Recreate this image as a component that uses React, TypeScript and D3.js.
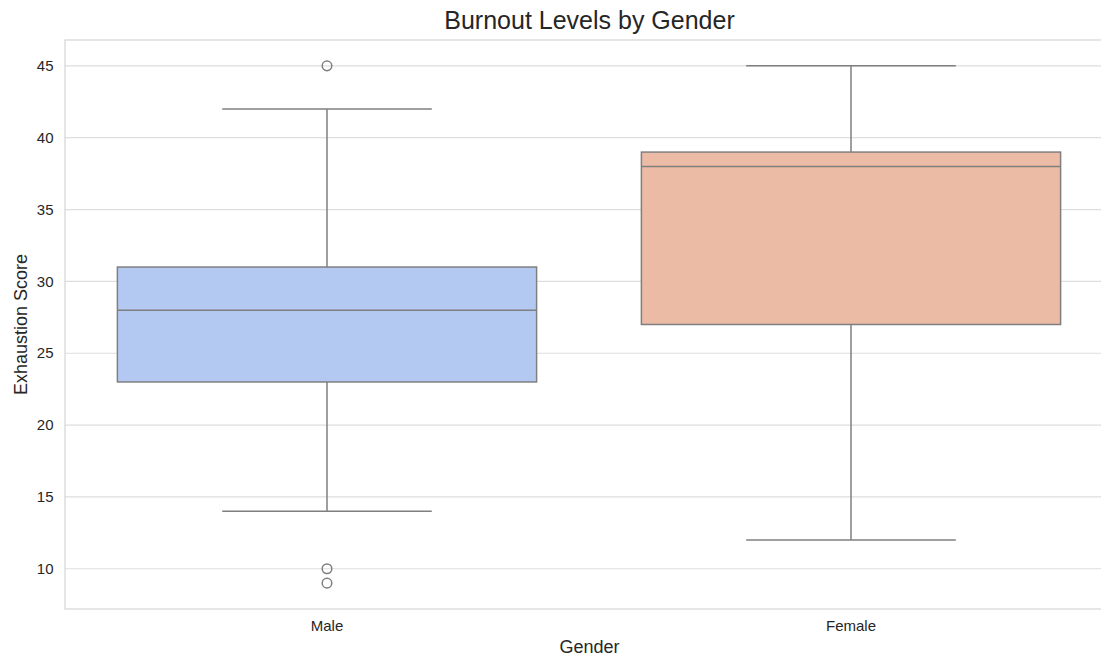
import React from "react";
import * as d3 from "d3";

const categories = ["Male", "Female"];
const whiskerLow = [14, 12];
const q1 = [23, 27];
const median = [28, 38];
const q3 = [31, 39];
const whiskerHigh = [42, 45];
const outliers = [[45, 10, 9], []];
const boxColors = ["#b4c9f2", "#ecbba5"];
const yTicks = [10, 15, 20, 25, 30, 35, 40, 45];

const W = 1101;
const H = 657;
const left = 65;
const right = 1113;
const top = 40;
const bottom = 609;
const lineColor = "#7f7f7f";
const font = "'Liberation Sans', Arial, sans-serif";

export default function App() {
  const x = d3.scaleBand<string>().domain(categories).range([left, right]).paddingInner(0).paddingOuter(0);
  const y = d3.scaleLinear().domain([7.2, 46.8]).range([bottom, top]);
  const bw = x.bandwidth() * 0.8;
  return (
    <svg width={W} height={H} style={{ position: "absolute", left: 0, top: 0 }}>
      <rect x={0} y={0} width={W} height={H} fill="#fff" />
      {yTicks.map((t) => (
        <g key={t}>
          <line x1={left} x2={right} y1={y(t)} y2={y(t)} stroke="#dedede" strokeWidth={1.2} />
          <text x={53.5} y={y(t)} dy="0.35em" textAnchor="end" fontFamily={font} fontSize={15} fill="#262626">
            {t}
          </text>
        </g>
      ))}
      <rect x={left} y={top} width={right - left} height={bottom - top} fill="none" stroke="#d5d5d5" strokeWidth={1.2} />
      {categories.map((c, i) => {
        const cx = x(c)! + x.bandwidth() / 2;
        return (
          <g key={c}>
            <line x1={cx} x2={cx} y1={y(whiskerLow[i])} y2={y(q1[i])} stroke={lineColor} strokeWidth={1.5} />
            <line x1={cx} x2={cx} y1={y(q3[i])} y2={y(whiskerHigh[i])} stroke={lineColor} strokeWidth={1.5} />
            <line x1={cx - bw / 4} x2={cx + bw / 4} y1={y(whiskerLow[i])} y2={y(whiskerLow[i])} stroke={lineColor} strokeWidth={1.5} />
            <line x1={cx - bw / 4} x2={cx + bw / 4} y1={y(whiskerHigh[i])} y2={y(whiskerHigh[i])} stroke={lineColor} strokeWidth={1.5} />
            <rect x={cx - bw / 2} y={y(q3[i])} width={bw} height={y(q1[i]) - y(q3[i])} fill={boxColors[i]} stroke={lineColor} strokeWidth={1.5} />
            <line x1={cx - bw / 2} x2={cx + bw / 2} y1={y(median[i])} y2={y(median[i])} stroke={lineColor} strokeWidth={1.5} />
            {outliers[i].map((o, j) => (
              <circle key={j} cx={cx} cy={y(o)} r={4.8} fill="none" stroke={lineColor} strokeWidth={1.5} />
            ))}
            <text x={cx} y={631} textAnchor="middle" fontFamily={font} fontSize={15} fill="#262626">
              {c}
            </text>
          </g>
        );
      })}
      <text x={589.5} y={29} textAnchor="middle" fontFamily={font} fontSize={25} fill="#262626">
        Burnout Levels by Gender
      </text>
      <text x={589.5} y={653} textAnchor="middle" fontFamily={font} fontSize={18} fill="#262626">
        Gender
      </text>
      <text transform={`translate(27, ${(top + bottom) / 2}) rotate(-90)`} textAnchor="middle" fontFamily={font} fontSize={18} fill="#262626">
        Exhaustion Score
      </text>
    </svg>
  );
}
